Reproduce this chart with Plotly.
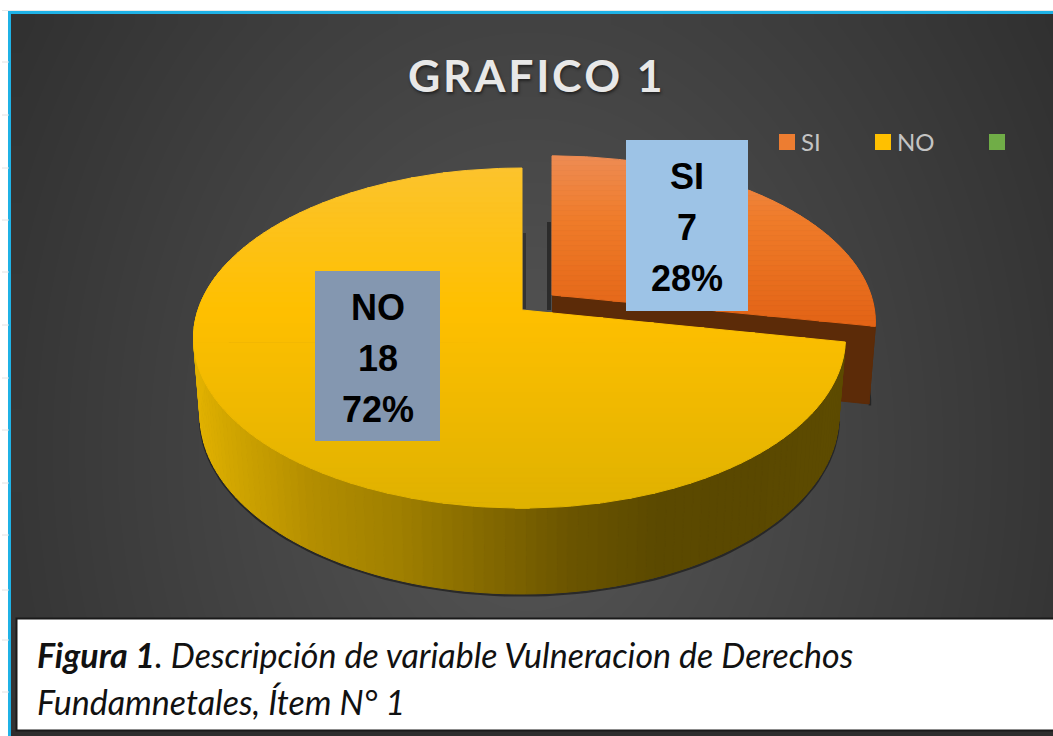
import numpy as np
import plotly.graph_objects as go

# ---- data ----
categories = ["SI", "NO", ""]
values = [7, 18, 0]
title_text = "GRAFICO 1"

# ---- styles ----
W, H = 1053, 736
K = 0.165            # perspective
RXL, RXR, RY = 324, 319, 165.4
DEPTH, BX, BY = 76, 0.98, 1.05
NO_C = (522, 310)
SI_C = (552, 295)
SI_SY = 0.98
FONT = "Lato"


def lerp(stops, t):
    xs = [s[0] for s in stops]
    return "rgb(%d,%d,%d)" % tuple(np.interp(t, xs, [s[1][i] for s in stops]) for i in range(3))


def proj(theta, c, sx=1.0, sy=1.0, dy=0.0):
    u, v = np.sin(theta), np.cos(theta)
    w = 1 + K * v
    rx = np.where(u < 0, RXL, RXR)
    return c[0] + sx * rx * u / w, c[1] + dy - sy * RY * v / w


def clip(pts, y0, y1):
    def half(p, keep, cross):
        out = []
        for i in range(len(p)):
            a, b = p[i], p[(i + 1) % len(p)]
            ka, kb = keep(a), keep(b)
            if ka:
                out.append(a)
            if ka != kb:
                t = (cross - a[1]) / (b[1] - a[1])
                out.append((a[0] + t * (b[0] - a[0]), cross))
        return out
    r = half(pts, lambda q: q[1] >= y0, y0)
    return half(r, lambda q: q[1] <= y1, y1) if r else r


fig = go.Figure()


def poly(xs, ys, color):
    fig.add_trace(go.Scatter(x=list(xs), y=list(ys), mode="lines", fill="toself", fillcolor=color,
                             line=dict(color=color, width=1), hoverinfo="skip", showlegend=False))


def edge(xs, ys, color, width):
    fig.add_trace(go.Scatter(x=list(xs), y=list(ys), mode="lines", line=dict(color=color, width=width),
                             hoverinfo="skip", showlegend=False))


def top_surface(a0, a1, c, stops, sy=1.0):
    th = np.linspace(a0, a1, 160)
    x, y = proj(th, c, 1.0, sy)
    pts = [(c[0], c[1])] + list(zip(x.tolist(), y.tolist()))
    ymin, ymax = min(p[1] for p in pts), max(p[1] for p in pts)
    edges = np.arange(ymin, ymax + 5, 5)
    for y0, y1 in zip(edges[:-1], edges[1:]):
        band = clip(pts, y0, y1)
        if len(band) >= 3:
            poly([p[0] for p in band] + [band[0][0]], [p[1] for p in band] + [band[0][1]],
                 lerp(stops, (y0 + y1) / 2))


# background gradient (cells stay inside the frame)
gx = np.arange(21, W + 30, 20.0)
gy = np.arange(24, 741, 20.0)
gxx, gyy = np.meshgrid(gx, gy)
dist = np.sqrt(((gxx - 530) / 680) ** 2 + ((gyy - 450) / 900) ** 2)
fig.add_trace(go.Heatmap(x=gx, y=gy, z=86 - 42 * dist, zmin=0, zmax=255, zsmooth="best",
                         colorscale=[[0, "#000000"], [1, "#ffffff"]], showscale=False, hoverinfo="skip"))

total = sum(values)
a_si = 2 * np.pi * values[0] / total

# SI slice: wall first, then top
th = np.linspace(np.pi / 2, a_si, 12)
xt, yt = proj(th, SI_C, 1.0, SI_SY)
xb, yb = proj(th, SI_C, BX, BY * SI_SY, DEPTH)
edge(xb + 1, yb + 1.5, "rgba(25,25,25,0.7)", 2.5)
poly(list(xt) + list(xb[::-1]), list(yt) + list(yb[::-1]), "#5c2b08")
xe, ye = proj(np.array(a_si), SI_C, 1.0, SI_SY)
xf, yf = proj(np.array(a_si), SI_C, BX, BY * SI_SY, DEPTH)
poly([SI_C[0], float(xe), float(xf), SI_C[0]], [SI_C[1], float(ye), float(yf), SI_C[1] + DEPTH], "#5c2b08")
top_surface(0, a_si, SI_C, [(156, (238, 140, 84)), (220, (240, 124, 42)), (325, (227, 100, 22))], SI_SY)

# NO slice: soft shadow, wall strips, then top
wall = [(195, (226, 178, 0)), (223, (212, 168, 0)), (310, (180, 142, 0)), (397, (160, 128, 0)),
        (484, (133, 106, 0)), (570, (107, 85, 0)), (657, (92, 74, 0)), (744, (90, 72, 0)), (850, (94, 76, 0))]
ths = np.linspace(a_si, 2 * np.pi * 0.80, 120)
xb, yb = proj(ths, NO_C, BX, BY, DEPTH)
edge(xb, yb + 1.5, "rgba(25,25,25,0.7)", 2.5)
for t0, t1 in zip(ths[:-1], ths[1:]):
    t = np.array([t0, t1])
    xt, yt = proj(t, NO_C)
    xb, yb = proj(t, NO_C, BX, BY, DEPTH)
    poly([xt[0], xt[1], xb[1], xb[0], xt[0]], [yt[0], yt[1], yb[1], yb[0], yt[0]], lerp(wall, float(xt.mean())))
top_surface(a_si, 2 * np.pi, NO_C, [(168, (252, 196, 46)), (310, (255, 192, 0)), (508, (224, 178, 0))])

# legend (own placement, as in the reference)
legend_colors = ["#ED7D31", "#FFC000", "#70AD47"]
legend_x = [787, 883, 997]
fig.add_trace(go.Scatter(x=legend_x, y=[142] * 3, mode="markers",
                         marker=dict(symbol="square", size=16, color=legend_colors),
                         hoverinfo="skip", showlegend=False))
fig.add_trace(go.Scatter(x=[x + 14 for x in legend_x], y=[145] * 3, mode="text", text=categories,
                         textposition="middle right",
                         textfont=dict(family=FONT, size=24, color="#c4c4c4"),
                         hoverinfo="skip", showlegend=False))

shapes = []
annos = []


def rect(x0, y0, x1, y1, fill, line=None, lw=0):
    shapes.append(dict(type="rect", x0=x0, y0=y0, x1=x1, y1=y1, xref="x", yref="y", fillcolor=fill,
                       line=dict(color=line or fill, width=lw), layer="above"))


def text(x, y, s, size, color, family=FONT, anchor="center", **kw):
    annos.append(dict(x=x, y=y, xref="x", yref="y", text=s, showarrow=False, xanchor=anchor, yanchor="middle",
                      font=dict(family=family, size=size, color=color, **kw)))


# data label boxes
boxes = {0: (626, 140, 748, 311, "#9DC3E6", 687), 1: (315, 271, 440, 441, "#8497B0", 378)}
for i, (x0, y0, x1, y1, col, xc) in boxes.items():
    rect(x0, y0, x1, y1, col)
    lines = [categories[i], str(values[i]), f"{round(100 * values[i] / total)}%"]
    for j, s in enumerate(lines):
        text(xc, y0 + 36 + 51 * j, f"<b>{s}</b>", 36, "#000000", family="Liberation Sans")

# shadows beside the exploded slice
rect(547, 222, 551, 310, "#2b2b2b")
rect(523, 233, 526, 309, "#333333")

# frame and caption
rect(9.5, 12.5, W + 5, H + 5, "rgba(0,0,0,0)", "#1fb2e6", 3)
rect(11, 730, W, H, "#2e2e2e")
rect(16.5, 618.5, W + 5, 730.5, "#ffffff", "#1a1a1a", 2)
text(35, 654, "<b><i>Figura 1</i></b><i>. Descripción de variable Vulneracion de Derechos</i>", 34, "#111111", anchor="left")
text(35, 701, "<i>Fundamnetales, Ítem N° 1</i>", 34, "#111111", anchor="left")
text(535, 74, "<b>" + "\u200a".join(title_text) + "</b>", 44.5, "#e8e8e8", shadow="1px 2px 3px #222222")

# faint ruler ticks
for yy in [62, 115, 168, 220, 272, 325, 378, 430, 483, 535, 590, 640, 692]:
    shapes.append(dict(type="line", x0=2, x1=9, y0=yy, y1=yy, line=dict(color="#e2e2e2", width=1), layer="above"))
shapes.append(dict(type="line", x0=2, x1=W, y0=10.5, y1=10.5, line=dict(color="#e8e8e8", width=1), layer="above"))

fig.update_layout(width=W, height=H, margin=dict(l=0, r=0, t=0, b=0), paper_bgcolor="#ffffff", plot_bgcolor="#ffffff",
                  xaxis=dict(range=[0, W], visible=False, fixedrange=True),
                  yaxis=dict(range=[H, 0], visible=False, fixedrange=True),
                  shapes=shapes, annotations=annos, showlegend=False)
fig.write_html("out.html", config=dict(displayModeBar=False),
               post_script="document.body.style.margin='0';document.body.style.overflow='hidden';")
